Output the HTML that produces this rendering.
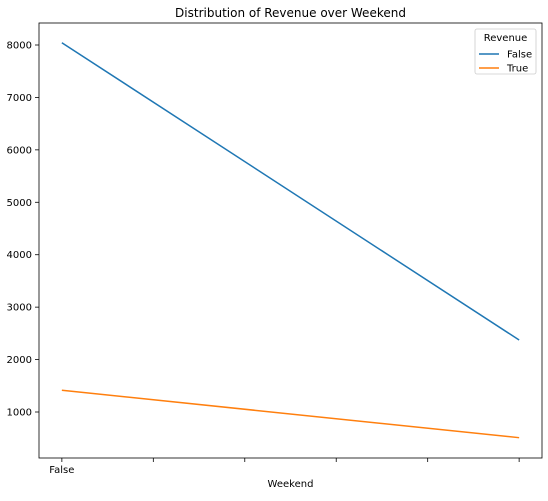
<!DOCTYPE html>
<html><head><meta charset="utf-8"><style>
body{margin:0;background:#fff;font-family:"Liberation Sans","DejaVu Sans",sans-serif;}
svg text{font-family:"DejaVu Sans","Liberation Sans",sans-serif;}
</style></head><body>
<svg id="c" width="548" height="496" xmlns="http://www.w3.org/2000/svg"></svg>
<script>
const categories = ["False", "True"];
const seriesNames = ["False", "True"];
const seriesFalse = [8044, 2373];
const seriesTrue = [1414, 510];
const yTicks = [1000, 2000, 3000, 4000, 5000, 6000, 7000, 8000];
const xTickVals = [0, 0.2, 0.4, 0.6, 0.8, 1.0];
const xTickLabels = ["False", "", "", "", "", ""];

const L=39,R=542,T=23,B=458;
const xs=v=>L+(v+0.05)/1.1*(R-L);
const ys=v=>412-(v-1000)*(367/7000);
const svg=document.getElementById('c');
const NS="http://www.w3.org/2000/svg";
function mk(t,a,txt){const e=document.createElementNS(NS,t);for(const k in a)e.setAttribute(k,a[k]);if(txt!==undefined)e.textContent=txt;svg.appendChild(e);return e;}

let e=mk('text',{x:(L+R)/2,y:17,'text-anchor':'middle','font-size':12},"Distribution of Revenue over Weekend");



yTicks.forEach(v=>{
  let t=mk('line',{x1:L-4,x2:L,y1:ys(v),y2:ys(v),stroke:'#000','stroke-width':0.8});
  
  
  let l=mk('text',{x:L-7,y:ys(v)+3.5,'text-anchor':'end','font-size':10},v);
  
  
});
xTickVals.forEach((v,i)=>{
  let t=mk('line',{x1:xs(v),x2:xs(v),y1:B,y2:B+4,stroke:'#000','stroke-width':0.8});
  
  
  if(xTickLabels[i]){
    let l=mk('text',{x:xs(v),y:B+15,'text-anchor':'middle','font-size':10},xTickLabels[i]);
    
    
  }
});
e=mk('text',{x:(L+R)/2,y:487,'text-anchor':'middle','font-size':10},"Weekend");



const colors=['#1f77b4','#ff7f0e'];
[seriesFalse,seriesTrue].forEach((s,i)=>{
  const pts=s.map((v,j)=>xs(j)+','+ys(v)).join(' ');
  let p=mk('polyline',{points:pts,fill:'none',stroke:colors[i],'stroke-width':1.5});
  
  
});

e=mk('rect',{x:L,y:T,width:R-L,height:B-T,fill:'none',stroke:'#000','stroke-width':0.8});



// legend
let lg=mk('rect',{x:475,y:29,width:61,height:45,rx:2,fill:'#fff',stroke:'#ccc','stroke-width':0.8});


e=mk('text',{x:505.5,y:41,'text-anchor':'middle','font-size':10},"Revenue");


seriesNames.forEach((n,i)=>{
  const y=54+i*14;
  let ln=mk('line',{x1:479,x2:499,y1:y,y2:y,stroke:colors[i],'stroke-width':1.5});
  
  
  let t=mk('text',{x:507,y:y+3.5,'font-size':10},n);
  
  
});
</script>
</body></html>
